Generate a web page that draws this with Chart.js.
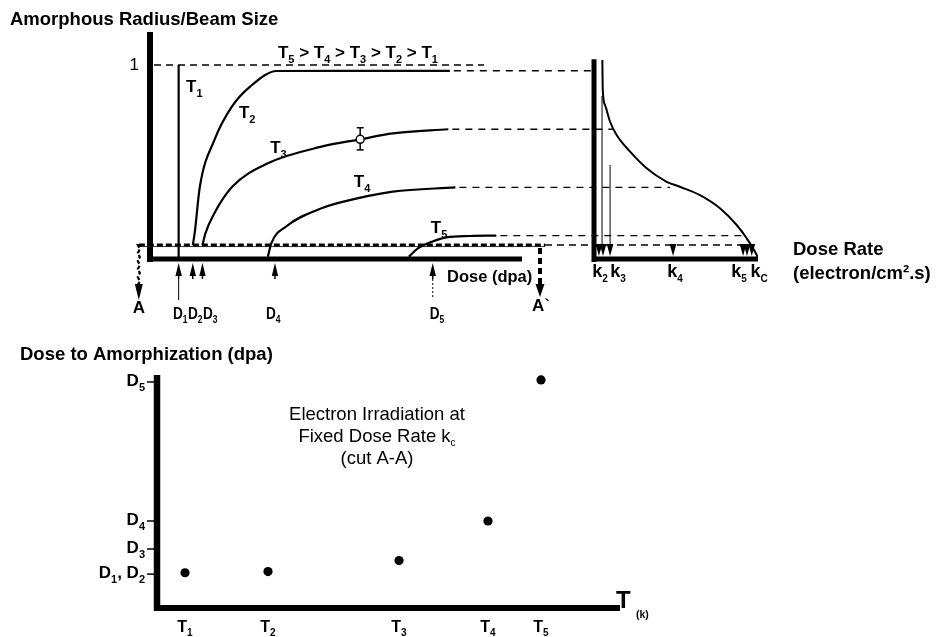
<!DOCTYPE html>
<html><head><meta charset="utf-8">
<script src="https://cdn.jsdelivr.net/npm/chart.js@4.4.1/dist/chart.umd.min.js"></script>
<style>
html,body{margin:0;padding:0;background:#fff;}
#wrap{position:relative;width:937px;height:637px;overflow:hidden;background:#fff;}
canvas{position:absolute;left:0;}
#top{top:0;}
#bot{top:330px;}
</style></head>
<body><div id="wrap"><canvas id="top" width="937" height="330"></canvas><canvas id="bot" width="937" height="307"></canvas></div>
<script>
// ================= DATA =================
// Top-left panel: amorphous radius / beam size vs dose (dose axis 0..100, arbitrary units)
const curveT1 = [[7.7, 0], [7.7, 1.0]];
const curveT2 = [[11.5,0.067],[12.0,0.128],[13.4,0.369],[17.3,0.611],[22.0,0.784],[26.9,0.888],[34.1,0.969],[55,0.970],[80.6,0.970]];
const curveT3 = [[14.1,0.067],[14.9,0.128],[17.3,0.232],[22.1,0.369],[31.7,0.491],[46.1,0.577],[56.5,0.615],[65.3,0.646],[80.2,0.667]];
const curveT4 = [[31.7,0.007],[32.6,0.076],[36.5,0.162],[46.1,0.258],[55.7,0.309],[65.3,0.344],[82.1,0.366]];
const curveT5 = [[69.6,0.007],[72.0,0.050],[75.8,0.084],[79.7,0.107],[86.0,0.114],[93.1,0.116]];
const t3Measure = {dose: 56.5, radius: 0.615, low: 0.560, high: 0.675};
const doseMarks = [7.7, 11.5, 14.1, 33.6, 76.0];
const doseMarkLabels = ['D_{1}', 'D_{2}', 'D_{3}', 'D_{4}', 'D_{5}'];
const thresholdRadius = 0.067;
const unityLineEndDose = 89.8;
// Top-right panel: radius vs dose rate (rate axis 0..100)
const rateCurve = [[5.1,1.026],[5.3,0.879],[6.7,0.793],[9.8,0.706],[13.8,0.637],[22.0,0.551],[32.1,0.465],[44.3,0.395],[52.4,0.369],[64.6,0.326],[76.8,0.258],[87.0,0.171],[93.1,0.102],[99.2,0.016],[100,0]];
const rateTicks = [3.7, 9.8, 48.2, 92.1, 97.0];
const rateTickLabels = ['k_{2}', 'k_{3}', 'k_{4}', 'k_{5}', 'k_{C}'];
const rateArrows = [3.0, 5.5, 9.8, 48.2, 90.9, 93.3, 96.2];
const rateGuides = [[4.9, 0.84], [9.8, 0.482]];
const connectorTargets = [0, 11.6, 46.3, 93.3];   // where the T2..T5 plateau lines meet the rate panel
const thresholdTarget = 95;
// Bottom panel: dose to amorphization vs temperature
const tempValues = [6.05, 23.97, 52.27, 71.49, 82.94];
const tempLabels = ['T_{1}', 'T_{2}', 'T_{3}', 'T_{4}', 'T_{5}'];
const amorphDose = [15.6, 16.1, 21.0, 38.5, 100.9];
const doseTicks = [15.0, 26.1, 38.5, 100];
const doseTickLabels = ['D_{1}, D_{2}', 'D_{3}', 'D_{4}', 'D_{5}'];

// ================= LAYOUT / STYLE =================
const FONT = '"Liberation Sans", Arial, Helvetica, sans-serif';
const L = {dLeft:150, dRight:522, rLeft:594, rRight:758, top:32, zeroY:258, unitY:65};
const doseMax = 100, rateMax = 100;

function drawRich(ctx, str, x, y, size, o = {}) {
  const weight = o.weight || 'bold';
  const sub = o.sub || 0.62, drop = o.drop || 0.27, sx = o.sx || 1;
  const segs = str.split(/(_\{[^}]*\})/).filter(s => s.length)
    .map(p => p.startsWith('_{') ? {t:p.slice(2,-1), s:true} : {t:p, s:false});
  const fontOf = s => `${weight} ${s ? Math.round(size*sub) : size}px ${FONT}`;
  let w = 0;
  segs.forEach(g => { ctx.font = fontOf(g.s); g.w = ctx.measureText(g.t).width; w += g.w; });
  const W = w * sx;
  const start = o.align === 'center' ? x - W/2 : o.align === 'right' ? x - W : x;
  ctx.save();
  ctx.translate(start, 0); ctx.scale(sx, 1);
  ctx.fillStyle = '#000'; ctx.textBaseline = 'alphabetic'; ctx.textAlign = 'left';
  let cx = 0;
  segs.forEach(g => { ctx.font = fontOf(g.s); ctx.fillText(g.t, cx, g.s ? y + size*drop : y); cx += g.w; });
  ctx.restore();
  return W;
}
function line(ctx, x1, y1, x2, y2, w, dash) {
  ctx.save(); ctx.beginPath(); ctx.setLineDash(dash || []); ctx.lineWidth = w; ctx.strokeStyle = '#000';
  ctx.moveTo(x1, y1); ctx.lineTo(x2, y2); ctx.stroke(); ctx.restore();
}
function tri(ctx, x, tipY, h, hw) {
  ctx.beginPath(); ctx.moveTo(x, tipY); ctx.lineTo(x - hw, tipY + h); ctx.lineTo(x + hw, tipY + h); ctx.closePath();
  ctx.fillStyle = '#000'; ctx.fill();
}
const pts = arr => arr.map(([x, y]) => ({x, y}));
const curveStyle = (data, xAxisID) => ({
  data: pts(data), xAxisID, yAxisID: 'y', borderColor: '#000', borderWidth: 2.2, pointRadius: 0,
  fill: false, cubicInterpolationMode: 'monotone', order: 1
});

// ================= TOP CHART =================
const topDecor = {
  id: 'topDecor',
  beforeDatasetsDraw(chart) {
    const {ctx, scales: {x, xr, y}} = chart;
    const X = v => x.getPixelForValue(v), R = v => xr.getPixelForValue(v), Y = v => y.getPixelForValue(v);
    // radius = 1 reference line
    line(ctx, X(0) + 4, Y(1), X(unityLineEndDose), Y(1), 1.5, [7, 5]);
    // plateau connectors
    [curveT2, curveT3, curveT4, curveT5].forEach((c, i) => {
      const last = c[c.length - 1];
      line(ctx, X(last[0]) + 4, Y(last[1]), R(connectorTargets[i]), Y(last[1]), 1.4, [7, 6]);
    });
    // threshold line
    const ty = Y(thresholdRadius);
    line(ctx, X(-3), ty, 545, ty, 3, [6, 3]);
    line(ctx, X(-3), ty + 1.5, 545, ty + 1.5, 0.8);
    line(ctx, 545, ty, R(thresholdTarget), ty, 1.5, [7, 5]);
    // error bar on T3
    const ex = X(t3Measure.dose);
    line(ctx, ex, Y(t3Measure.low), ex, Y(t3Measure.high), 1.5);
    line(ctx, ex - 3.5, Y(t3Measure.low), ex + 3.5, Y(t3Measure.low), 1.5);
    line(ctx, ex - 3.5, Y(t3Measure.high), ex + 3.5, Y(t3Measure.high), 1.5);
  },
  afterDatasetsDraw(chart) {
    const {ctx, scales: {x, xr, y}} = chart;
    const X = v => x.getPixelForValue(v), R = v => xr.getPixelForValue(v), Y = v => y.getPixelForValue(v);
    const y0 = Y(0) + 1;
    const ty = Y(thresholdRadius);
    ctx.save();
    // axes
    line(ctx, X(0), L.top, X(0), y0 + 3, 6);
    line(ctx, X(0) - 3, y0, X(doseMax), y0, 5);
    line(ctx, R(0), Y(1.03), R(0), y0 + 3, 5);
    line(ctx, R(0) - 2, y0, R(rateMax), y0, 5);
    // dose arrows (up)
    const dOff = [-5.6, -4.8, 0.5, -9, -3];
    doseMarks.forEach((d, i) => {
      const px = X(d);
      tri(ctx, px, y0 + 4, 13, 3.2);
      line(ctx, px, y0 + 15, px, y0 + 20, 1.5);
      drawRich(ctx, doseMarkLabels[i], px + dOff[i], 319, 16, {sx: 0.85, sub: 0.62});
    });
    line(ctx, X(doseMarks[0]), y0 + 20, X(doseMarks[0]), y0 + 41, 1);
    line(ctx, X(doseMarks[4]), y0 + 20, X(doseMarks[4]), y0 + 38, 1, [2, 2]);
    // rate guides and arrows (down)
    rateGuides.forEach(([r, from]) => line(ctx, R(r), Y(from), R(r), y0 - 12, 1));
    rateArrows.forEach(r => tri(ctx, R(r), y0 - 3, -12, 3.4));
    const kOff = [0, 8, 2, -6, 6];
    rateTicks.forEach((r, i) => drawRich(ctx, rateTickLabels[i], R(r) + kOff[i], 277, 18, {align: 'center', sub: 0.58}));
    // cut A (left)
    const ax = X(-3);
    ctx.save(); ctx.beginPath(); ctx.setLineDash([4, 2]); ctx.lineWidth = 2.2; ctx.strokeStyle = '#000';
    ctx.moveTo(ax, ty);
    for (let yy = ty, k = 0; yy < 286; yy += 4, k++) ctx.lineTo(ax + (k % 2 ? 1.0 : -1.0), yy);
    ctx.stroke(); ctx.restore();
    tri(ctx, ax, 300, -16, 4);
    drawRich(ctx, 'A', ax, 313, 17, {align: 'center'});
    // cut A' (right)
    const bx = 540;
    line(ctx, bx, ty + 3, bx, 285, 4, [6, 4]);
    tri(ctx, bx, 297, -13, 4.5);
    drawRich(ctx, 'A`', bx + 1, 311, 17, {align: 'center'});
    // texts
    drawRich(ctx, 'Amorphous Radius/Beam Size', 10, 25, 18.5);
    drawRich(ctx, '1', X(0) - 11, 70, 17, {align: 'right', weight: 'normal'});
    drawRich(ctx, 'T_{5} > T_{4} > T_{3} > T_{2} > T_{1}', X(34.4), Y(1.036), 17);
    [['T_{1}', 9.7, 0.860], ['T_{2}', 23.9, 0.725], ['T_{3}', 32.3, 0.544], ['T_{4}', 54.8, 0.368], ['T_{5}', 75.5, 0.130]]
      .forEach(([t, d, r]) => drawRich(ctx, t, X(d), Y(r), 17));
    drawRich(ctx, 'Dose (dpa)', 447, 282, 16.5);
    drawRich(ctx, 'Dose Rate', 793, 255, 18.5);
    drawRich(ctx, '(electron/cm².s)', 793, 279, 18.5);
    ctx.restore();
  }
};

new Chart(document.getElementById('top'), {
  type: 'line',
  data: {datasets: [
    {data: [{x: t3Measure.dose, y: t3Measure.radius}], xAxisID: 'x', yAxisID: 'y', showLine: false,
     pointRadius: 4, pointBackgroundColor: '#fff', pointBorderColor: '#000', pointBorderWidth: 1.5, order: 0},
    curveStyle(curveT1, 'x'), curveStyle(curveT2, 'x'), curveStyle(curveT3, 'x'),
    curveStyle(curveT4, 'x'), curveStyle(curveT5, 'x'),
    Object.assign(curveStyle(rateCurve, 'xr'), {borderWidth: 2})
  ]},
  options: {
    responsive: false, animation: false, devicePixelRatio: 1,
    layout: {padding: {left: L.dLeft, right: 937 - L.rRight, top: L.top, bottom: 330 - L.zeroY}},
    plugins: {legend: {display: false}, tooltip: {enabled: false}},
    scales: {
      x: {type: 'linear', display: false, min: 0, max: doseMax * (L.rRight - L.dLeft) / (L.dRight - L.dLeft)},
      xr: {type: 'linear', display: false, min: -rateMax * (L.rLeft - L.dLeft) / (L.rRight - L.rLeft), max: rateMax},
      y: {type: 'linear', display: false, min: 0, max: (L.zeroY - L.top) / (L.zeroY - L.unitY)}
    }
  },
  plugins: [topDecor]
});

// ================= BOTTOM CHART =================
const botDecor = {
  id: 'botDecor',
  afterDatasetsDraw(chart) {
    const {ctx, chartArea: a, scales: {x, y}} = chart;
    ctx.save();
    line(ctx, a.left, a.top - 2, a.left, a.bottom + 3, 6.5);
    line(ctx, a.left - 3, a.bottom, a.right, a.bottom, 6);
    doseTicks.forEach((d, i) => {
      const py = y.getPixelForValue(d);
      line(ctx, a.left - 10, py, a.left, py, 1.5);
      drawRich(ctx, doseTickLabels[i], a.left - 12, py + 4, 17, {align: 'right'});
    });
    tempValues.forEach((t, i) => drawRich(ctx, tempLabels[i], x.getPixelForValue(t), a.bottom + 24, 16, {align: 'center'}));
    drawRich(ctx, 'T', a.right - 4, a.bottom, 24);
    drawRich(ctx, '(k)', a.right + 16, a.bottom + 10, 10.5);
    drawRich(ctx, 'Dose to Amorphization (dpa)', 20, 30, 18.5);
    const cx = 377;
    drawRich(ctx, 'Electron Irradiation at', cx, 90, 18.5, {align: 'center', weight: 'normal'});
    drawRich(ctx, 'Fixed Dose Rate k_{c}', cx, 112, 18.5, {align: 'center', weight: 'normal', sub: 0.55, drop: 0.2});
    drawRich(ctx, '(cut A-A)', cx, 134, 18.5, {align: 'center', weight: 'normal'});
    ctx.restore();
  }
};

new Chart(document.getElementById('bot'), {
  type: 'scatter',
  data: {datasets: [{
    data: tempValues.map((t, i) => ({x: t, y: amorphDose[i]})),
    pointRadius: 4.6, pointBackgroundColor: '#000', pointBorderColor: '#000', pointBorderWidth: 0,
    clip: false
  }]},
  options: {
    responsive: false, animation: false, devicePixelRatio: 1,
    layout: {padding: {left: 157, right: 317, top: 47, bottom: 29}},
    plugins: {legend: {display: false}, tooltip: {enabled: false}},
    scales: {
      x: {type: 'linear', display: false, min: 0, max: 100},
      y: {type: 'linear', display: false, min: 0, max: 102.2}
    }
  },
  plugins: [botDecor]
});
</script>
</body></html>
